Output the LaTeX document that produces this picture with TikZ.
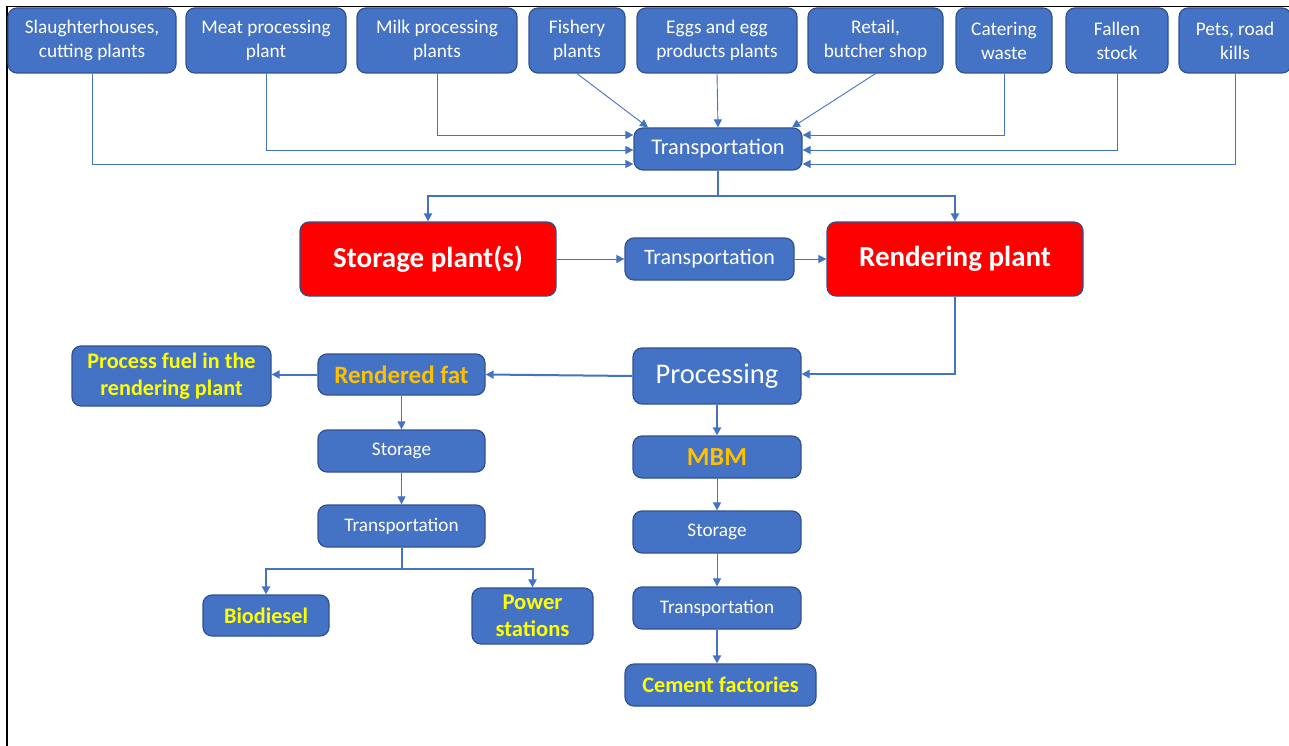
\documentclass[tikz,border=0pt]{standalone}
\usepackage{fontspec}
\setmainfont{Carlito}
\usetikzlibrary{arrows.meta}
\definecolor{boxblue}{HTML}{4472C4}
\definecolor{edgeblue}{HTML}{2F528F}
\definecolor{linkblue}{HTML}{4472C4}
\definecolor{fatorange}{HTML}{FFC000}
\definecolor{useyellow}{HTML}{FFFF00}
\tikzset{
  box/.style={draw=edgeblue, line width=1.2pt, fill=boxblue, rounded corners=9pt,
    inner sep=0pt, align=center, text=white},
  redbox/.style={box, fill=red},
  fs/.style 2 args={font=\fontsize{#1}{#2}\selectfont},
  bfs/.style 2 args={font=\fontsize{#1}{#2}\selectfont\bfseries},
  src/.style={box, minimum height=65pt, fs={19.3}{24}},
  thin link/.style={draw=linkblue, line width=0.9pt, -{Triangle[length=8pt,width=8pt]}},
  thick link/.style={draw=linkblue, line width=2pt, -{Triangle[length=8pt,width=8pt]}},
  plain link/.style={draw=linkblue, line width=2pt},
}
\begin{document}
\begin{tikzpicture}[x=1pt,y=-1pt]
\useasboundingbox (0,0) rectangle (1289,746);
% frame
\draw[black, line width=1.5pt] (7,746) -- (7,6.5) -- (1289,6.5);

% sources
\node[src, minimum width=168pt] (s1) at (92,40.5) {Slaughterhouses,\\cutting plants};
\node[src, minimum width=160pt] (s2) at (266,40.5) {Meat processing\\plant};
\node[src, minimum width=160pt] (s3) at (437,40.5) {Milk processing\\plants};
\node[src, minimum width=96pt] (s4) at (577,40.5) {Fishery\\plants};
\node[src, minimum width=160pt] (s5) at (717,40.5) {Eggs and egg\\products plants};
\node[src, minimum width=135pt] (s6) at (875.5,40.5) {Retail,\\butcher shop};
\node[src, minimum width=96pt] (s7) at (1004,40.5) {Catering\\waste};
\node[src, minimum width=102pt] (s8) at (1117,40.5) {Fallen\\stock};
\node[src, minimum width=112pt] (s9) at (1235,40.5) {Pets, road\\kills};

% collection
\node[box, minimum width=168pt, minimum height=42pt, fs={22.4}{26}] (tr) at (718,149) {Transportation};
\node[redbox, minimum width=256pt, minimum height=74pt, bfs={29}{34}] (sp) at (428,259) {Storage plant(s)};
\node[box, minimum width=169pt, minimum height=42pt, fs={22}{26}] (tm) at (709.5,259) {Transportation};
\node[redbox, minimum width=256pt, minimum height=74pt, bfs={29}{34}] (rp) at (955,259) {Rendering plant};
\node[box, minimum width=168pt, minimum height=56pt, fs={28.5}{33}] (proc) at (717,376) {Processing};

% fat branch
\node[box, minimum width=167pt, minimum height=41pt, bfs={25}{29}, text=fatorange] (rf) at (401.5,374.5) {Rendered fat};
\node[box, minimum width=199pt, minimum height=60pt, bfs={22.2}{27}, text=useyellow] (pf) at (171.5,376) {Process fuel in the\\rendering plant};
\node[box, minimum width=167pt, minimum height=42pt, fs={19.2}{22}] (st1) at (401.5,451) {Storage};
\node[box, minimum width=167pt, minimum height=42pt, fs={19.2}{22}] (tl) at (401.5,526) {Transportation};
\node[box, minimum width=126pt, minimum height=41pt, bfs={22.2}{26}, text=useyellow] (bio) at (266,615.5) {Biodiesel};
\node[box, minimum width=121pt, minimum height=56pt, bfs={22.6}{27}, text=useyellow] (pow) at (532.5,616) {Power\\stations};

% MBM branch
\node[box, minimum width=168pt, minimum height=42pt, bfs={26}{30}, text=fatorange] (mbm) at (717,457) {MBM};
\node[box, minimum width=168pt, minimum height=42pt, fs={19.2}{22}] (st2) at (717,532) {Storage};
\node[box, minimum width=168pt, minimum height=42pt, fs={19.2}{22}] (tr2) at (717,608) {Transportation};
\node[box, minimum width=191pt, minimum height=42pt, bfs={22.2}{26}, text=useyellow] (cem) at (720.5,685) {Cement factories};

% sources into transportation
\draw[thin link] (s1.south) |- ([yshift=-15pt]tr.west);
\draw[thin link] (s2.south) |- ([yshift=-1pt]tr.west);
\draw[thin link] (s3.south) |- ([yshift=14pt]tr.west);
\draw[thin link] (s4.south) -- ([xshift=-70pt]tr.north);
\draw[thin link] (s5.south) -- (tr.north);
\draw[thin link] (s6.south) -- ([xshift=74pt]tr.north);
\draw[thin link] (s7.south) |- ([yshift=14pt]tr.east);
\draw[thin link] (s8.south) |- ([yshift=-1pt]tr.east);
\draw[thin link] (s9.south) |- ([yshift=-15pt]tr.east);

% split to storage and rendering
\coordinate (j1) at (718,196);
\draw[plain link] (tr.south) -- (j1);
\draw[thick link] (j1) -| (sp.north);
\draw[thick link] (j1) -| (rp.north);
\draw[thin link] (sp.east) -- (tm.west);
\draw[thin link] (tm.east) -- (rp.west);
\draw[thick link] (rp.south) |- ([yshift=2pt]proc.east);

% fat branch links
\draw[thick link] (proc.west) -- (rf.east);
\draw[thick link] (rf.west) -- (rf.west -| pf.east);
\draw[thin link] (rf.south) -- (st1.north);
\draw[thin link] (st1.south) -- (tl.north);
\coordinate (j2) at (401.5,569);
\draw[plain link] (tl.south) -- (j2);
\draw[thick link] (j2) -| (bio.north);
\draw[thick link] (j2) -| (pow.north);

% MBM branch links
\draw[thick link] (proc.south) -- (mbm.north);
\draw[thin link] (mbm.south) -- (st2.north);
\draw[thin link] (st2.south) -- (tr2.north);
\draw[thick link] (tr2.south) -- (tr2.south |- cem.north);
\end{tikzpicture}
\end{document}
